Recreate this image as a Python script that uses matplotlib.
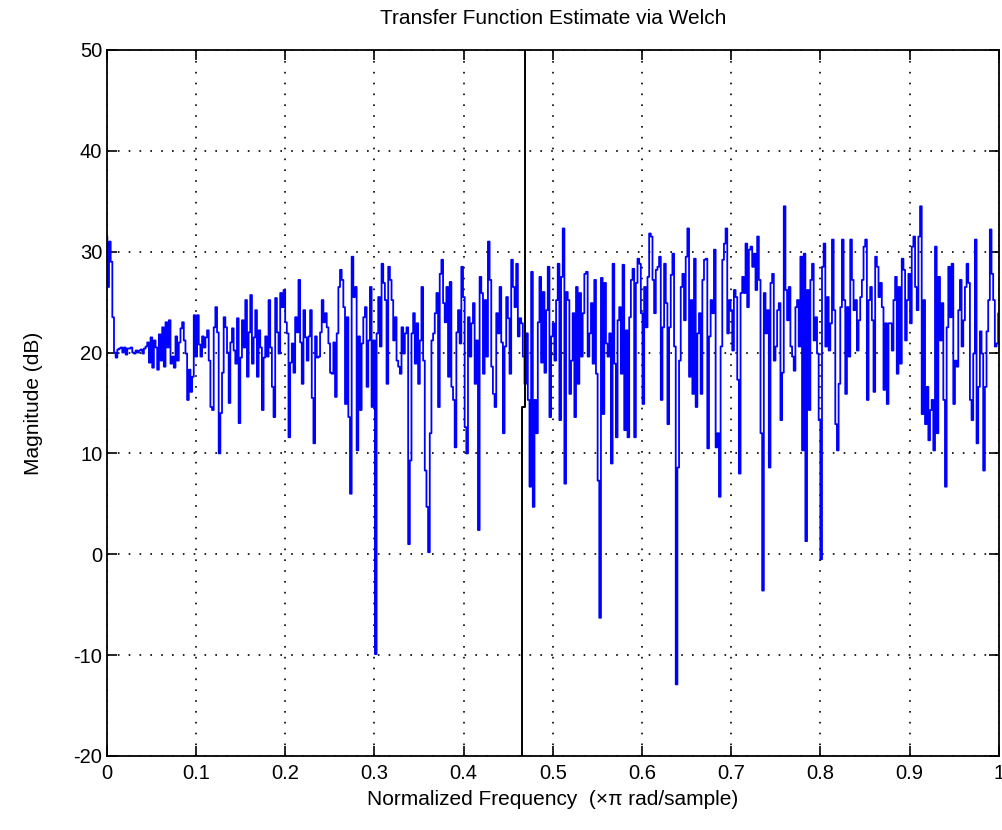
import numpy as np
import matplotlib
matplotlib.use("Agg")
import matplotlib.pyplot as plt

plt.rcParams["font.family"] = ["Liberation Sans", "DejaVu Sans"]
plt.rcParams["axes.unicode_minus"] = False

# Magnitud (dB), en orden de frecuencia creciente (0 .. 1)
mag_a = [31.5, 26.5, 31.0, 29.0, 23.5, 20.0, 19.5, 20.3, 20.4, 20.5, 20.0, 20.5,
         19.8, 20.4, 20.4, 20.5, 20.0, 19.9, 20.2, 20.0, 20.2, 20.3, 19.9, 20.4,
         20.6, 21.0, 19.0, 21.5, 18.5, 21.2, 20.5, 18.3, 21.8, 19.2, 22.5, 18.6,
         23.0, 20.5, 23.2, 18.9, 19.6, 18.5, 21.6, 19.2, 21.0, 22.4, 23.0, 21.2,
         19.9, 15.3, 18.3, 16.1, 17.6, 23.7, 19.6, 23.7, 20.8, 19.6, 21.6, 20.5,
         21.5, 22.2, 19.2, 14.6, 14.3, 22.5, 24.5, 22.0, 10.0]
mag_b = [14.0, 18.0, 23.5, 22.5, 20.0, 15.0, 21.0, 22.4, 20.2, 18.9, 23.4, 13.0,
         19.5, 23.2, 20.5, 25.2, 17.6, 22.0, 25.7, 18.9, 21.5, 24.2, 17.6, 22.2,
         20.5, 14.3, 19.5, 21.6, 19.6, 25.2, 20.5, 16.6, 13.6, 25.4, 22.0, 19.9,
         25.9, 24.5, 26.2, 23.0, 21.9, 11.6, 19.0, 20.9, 18.0, 23.5, 22.0, 27.2,
         21.0, 16.9, 24.2, 21.5, 19.2, 21.6, 24.2, 15.5, 11.0, 21.6, 19.5, 19.6,
         22.0, 25.2, 23.0, 23.9, 22.5, 20.9, 18.0]
mag_c = [17.9, 21.0, 15.6, 21.9, 26.5, 28.2, 27.2, 24.5, 14.9, 23.5, 13.6, 6.0,
         29.5, 25.5, 26.5, 10.3, 21.6, 14.3, 20.9, 23.5, 24.5, 16.6, 21.2, 26.5,
         14.6, 21.2, -9.9, 21.9, 25.5, 20.6, 28.8, 26.9, 25.2, 16.9, 28.5, 27.2,
         25.2, 21.2, 23.5, 19.2, 18.6, 17.9, 22.5, 19.9, 21.9, 22.5, 1.0, 9.3,
         21.9, 23.9, 18.9, 22.9, 16.9, 21.2, 26.5, 19.2, 8.3, 4.7, 0.2, 12.0,
         21.2, 21.9, 23.9, 25.9, 14.6, 27.8, 29.2, 24.9]
mag_d = [23.0, 26.5, 17.6, 27.0, 16.6, 15.3, 10.6, 22.0, 24.2, 20.9, 28.5, 25.5,
         12.6, 10.0, 23.5, 19.6, 22.9, 24.9, 16.9, 21.2, 2.4, 27.5, 25.9, 17.9,
         25.2, 19.6, 31.0, 27.2, 18.6, 15.9, 14.6, 23.9, 21.9, 26.5, 21.0, 12.0,
         20.6, 25.5, 23.4, 17.9, 29.2, 26.5, 24.5, 28.8, 21.6, 23.4, 22.9, 19.6,
         16.9, 21.9, 15.3, 6.7, 28.0, 4.7, 15.3, 12.0, 23.0, 27.5, 19.0, 26.0,
         18.0, 24.2, 28.5, 13.6, 21.6, 22.9, 19.2]
mag_e = [25.2, 28.8, 13.3, 27.5, 32.3, 7.0, 26.0, 25.2, 15.9, 19.2, 23.9, 13.6,
         26.5, 16.9, 25.9, 19.6, 23.9, 27.8, 28.0, 19.6, 21.9, 24.9, 18.9, 27.2,
         17.9, 7.3, -6.3, 27.4, 13.9, 26.9, 20.9, 19.6, 21.9, 9.0, 28.8, 18.9,
         11.6, 23.2, 24.5, 17.9, 28.7, 12.3, 22.2, 11.6, 23.5, 27.2, 28.3, 11.6,
         26.9, 29.3, 28.8, 23.9, 14.9, 26.5, 22.5, 27.5, 31.8, 31.5, 27.2, 23.9,
         28.2, 28.5, 29.5, 15.3, 22.5, 28.8, 24.9]
mag_f = [12.9, 22.5, 27.7, 29.8, 20.6, -12.9, 8.6, 19.2, 26.5, 27.8, 23.2, 29.5,
         32.3, 17.6, 25.2, 15.9, 29.3, 14.6, 21.9, 23.9, 15.9, 27.2, 29.2, 29.3,
         10.5, 21.6, 25.2, 23.9, 30.2, 10.6, 12.0, 5.7, 20.6, 29.2, 30.8, 32.3,
         21.9, 25.2, 24.2, 20.2, 26.2, 25.5, 17.3, 8.0, 25.9, 27.5, 25.9, 30.8,
         24.5, 30.2, 30.5, 28.5, 29.8, 26.2, 31.5, 27.2, 12.0, -3.6, 25.9, 21.9,
         24.2, 8.6, 26.9, 27.8, 19.2, 20.6, 24.2]
mag_g = [24.9, 13.3, 18.0, 34.5, 26.2, 23.2, 26.5, 20.6, 19.6, 18.2, 24.5, 25.2,
         20.6, 29.5, 10.3, 29.8, 1.3, 26.2, 14.3, 27.2, 28.8, 21.2, 23.5, 19.9,
         13.3, -0.5, 28.5, 30.8, 20.6, 25.5, 20.2, 22.9, 31.2, 24.2, 12.9, 10.3,
         16.9, 24.5, 31.2, 25.2, 15.9, 24.5, 19.6, 31.2, 27.2, 24.2, 25.2, 20.2,
         23.2, 25.5, 27.2, 30.5, 31.2, 15.3, 25.2, 26.5, 23.2, 16.1, 29.5, 28.5,
         25.5, 26.9, 24.5, 16.3, 22.9, 14.9, 22.9]
mag_h = [22.9, 20.2, 25.2, 27.5, 17.9, 26.5, 18.9, 29.3, 28.2, 21.2, 25.2, 27.8,
         22.9, 30.5, 31.5, 26.5, 24.2, 31.5, 34.5, 13.9, 25.2, 12.9, 16.6, 11.3,
         14.3, 15.3, 10.3, 30.5, 12.0, 27.5, 21.2, 24.9, 15.3, 6.7, 22.5, 28.5,
         23.5, 28.8, 14.9, 19.2, 18.6, 24.2, 27.2, 20.6, 23.2, 26.5, 28.8, 26.9,
         15.3, 13.3, 19.9, 31.2, 11.0, 16.6, 22.1, 19.9, 8.3, 16.6, 22.1, 25.2,
         32.2, 27.8, 25.2, 20.6, 20.9, 23.9]

magnitude = np.array(mag_a + mag_b + mag_c + mag_d + mag_e + mag_f + mag_g + mag_h)
freq = np.linspace(0, 1, len(magnitude))   # rejilla uniforme de Welch

# segunda traza (negra), casi vertical
black_freq = [0.4686, 0.4686, 0.4655, 0.4655]
black_mag = [50, 14.6, 14.6, -20]

x_ticks = [0, 0.1, 0.2, 0.3, 0.4, 0.5, 0.6, 0.7, 0.8, 0.9, 1]
x_labels = ["0", "0.1", "0.2", "0.3", "0.4", "0.5", "0.6", "0.7", "0.8", "0.9", "1"]
y_ticks = [-20, -10, 0, 10, 20, 30, 40, 50]


fig = plt.figure(figsize=(10.02, 8.30), dpi=100)
ax = fig.add_axes([0.1063, 0.0892, 0.8907, 0.8506])

# trazo escalonado, como el render de MATLAB ampliado
ax.plot(freq, magnitude, color="#0000ff", lw=1.3, drawstyle="steps-mid")
ax.plot(black_freq, black_mag, color="black", lw=1.4)

ax.set_xlim(0, 1)
ax.set_ylim(-20, 50)
ax.set_xticks(x_ticks)
ax.set_xticklabels(x_labels)
ax.set_yticks(y_ticks)
ax.tick_params(direction="in", length=7, width=1.2, top=True, right=True,
               labelsize=14.5)
ax.tick_params(axis="x", pad=6)
ax.tick_params(axis="y", pad=3)
ax.grid(True, color="black", linestyle=(0, (1, 5.5)), linewidth=1.2)
for sp in ax.spines.values():
    sp.set_linewidth(1.3)

ax.set_title("Transfer Function Estimate via Welch", fontsize=15, pad=19)
ax.set_xlabel("Normalized Frequency  (\u00d7\u03c0 rad/sample)", fontsize=15, labelpad=5)
ax.set_ylabel("Magnitude (dB)", fontsize=15, labelpad=22)

fig.savefig("out.png", dpi=100)
